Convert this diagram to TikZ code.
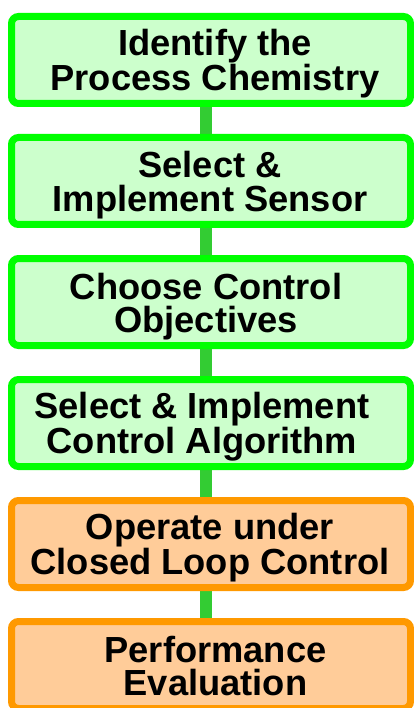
\documentclass[tikz,border=0pt]{standalone}
\usepackage{fontspec}
\setmainfont{Liberation Sans}
\usetikzlibrary{backgrounds}

\definecolor{stepgreen}{HTML}{00FF00}
\definecolor{stepgreenfill}{HTML}{CCFFCC}
\definecolor{steporange}{HTML}{FF9900}
\definecolor{steporangefill}{HTML}{FFCC99}
\definecolor{linkgreen}{HTML}{33CC33}

\tikzset{
  stepbox/.style={rectangle, rounded corners=7pt, line width=7pt,
    minimum width=399pt, minimum height=87pt, inner sep=0pt},
  greenbox/.style={stepbox, draw=stepgreen, fill=stepgreenfill},
  orangebox/.style={stepbox, draw=steporange, fill=steporangefill},
  steptext/.style={anchor=base, align=center, inner sep=0pt,
    font=\fontsize{36.3pt}{33.5pt}\selectfont\bfseries},
  link/.style={draw=linkgreen, line width=11.5pt}
}

\begin{document}
\begin{tikzpicture}[x=1pt, y=-1pt]
  \useasboundingbox (0,0) rectangle (414,708);

  % boxes of the procedure, top to bottom
  \node[greenbox]  (b1) at (211,60)  {};
  \node[greenbox]  (b2) at (211,181) {};
  \node[greenbox]  (b3) at (211,302) {};
  \node[greenbox]  (b4) at (211,423) {};
  \node[orangebox] (b5) at (211,544) {};
  \node[orangebox] (b6) at (211,665) {};

  % labels, placed by the baseline of their last line
  \node[steptext] (t1) at (215,90.5)  {Identify the\\Process Chemistry};
  \node[steptext] (t2) at (210,211.5) {Select \&\\Implement Sensor};
  \node[steptext] (t3) at (206,332.5) {Choose Control\\Objectives};
  \node[steptext] (t4) at (202,453.5) {Select \& Implement\\Control Algorithm};
  \node[steptext] (t5) at (210,574.5) {Operate under\\Closed Loop Control};
  \node[steptext] (t6) at (215.5,695.5) {Performance\\Evaluation};

  % vertical links between successive boxes
  \coordinate (spine) at (206,0);
  \begin{scope}[on background layer]
    \foreach \a/\b in {b1/b2, b2/b3, b3/b4, b4/b5, b5/b6}
      \draw[link] (\a.center -| spine) -- (\b.center -| spine);
  \end{scope}
\end{tikzpicture}
\end{document}
